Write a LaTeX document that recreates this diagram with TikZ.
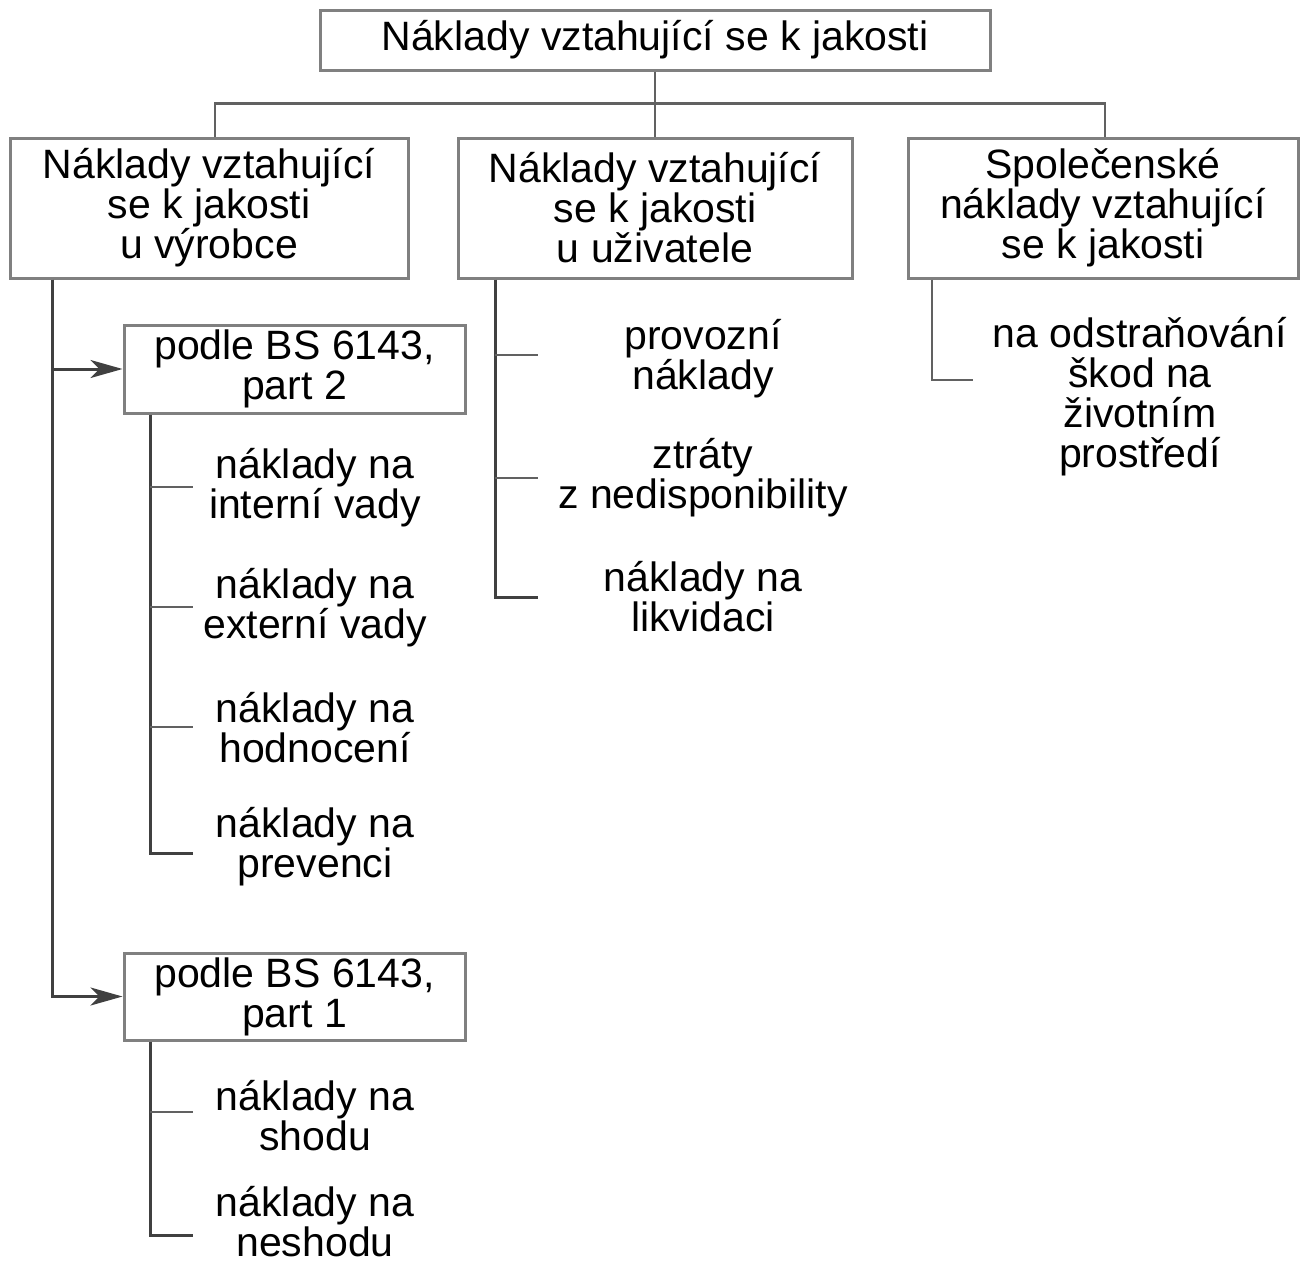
\documentclass[tikz,border=0pt]{standalone}
\usepackage{fontspec}
\setmainfont{Liberation Sans}
\usetikzlibrary{arrows.meta}
\begin{document}
\begin{tikzpicture}[x=1pt,y=-1pt,
  every node/.style={font=\fontsize{41}{40}\selectfont, align=center, inner sep=0pt},
  box/.style={draw=black!50, line width=3pt, fill=white},
  conn/.style={draw=black!75, line width=3pt},
  tick/.style={draw=black!62, line width=2.6pt},
  arr/.style={-{Stealth[length=32pt,width=18pt,inset=9pt]}}]
\useasboundingbox (0,0) rectangle (1301,1266);
% boxes
\node[box, minimum width=670, minimum height=60] (top) at (655,40) {Náklady vztahující se k jakosti};
\node[box, minimum width=398, minimum height=140] (A) at (209,208) {Náklady vztahující\\se k jakosti\\u výrobce};
\node[box, minimum width=394, minimum height=140] (B) at (655,208) {Náklady vztahující\\se k jakosti\\u uživatele};
\node[box, minimum width=390, minimum height=140] (C) at (1103,208) {Společenské\\náklady vztahující\\se k jakosti};
\node[box, minimum width=341, minimum height=88] (P2) at (294.5,369) {podle BS 6143,\\part 2};
\node[box, minimum width=341, minimum height=87] (P1) at (294.5,996.5) {podle BS 6143,\\part 1};
% labels
\node (L1) at (315,488) {náklady na\\interní vady};
\node (L2) at (315,608) {náklady na\\externí vady};
\node (L3) at (315,728) {náklady na\\hodnocení};
\node (L4) at (315,847) {náklady na\\prevenci};
\node (L5) at (315,1116) {náklady na\\shodu};
\node (L6) at (315,1222) {náklady na\\neshodu};
\node (M1) at (703,359) {provozní\\náklady};
\node (M2) at (703,478) {ztráty\\z nedisponibility};
\node (M3) at (703,597) {náklady na\\likvidaci};
\node (S1) at (1140,397) {na odstraňování\\škod na\\životním\\prostředí};
% coordinates
\coordinate (xa) at (52,0);
\coordinate (xb) at (150,0);
\coordinate (xm) at (495,0);
\coordinate (xs) at (932,0);
\coordinate (t1) at (193,487);
\coordinate (t2) at (193,607);
\coordinate (t3) at (193,727);
\coordinate (t4) at (193,853);
\coordinate (t5) at (193,1112);
\coordinate (t6) at (193,1235);
\coordinate (m1) at (538,355);
\coordinate (m2) at (538,478);
\coordinate (m3) at (538,597);
\coordinate (s1) at (973,380);
% top connectors
\draw[tick] (top.south) -- (B.north);
\draw[tick] ([xshift=6pt]A.north) -- ++(0,-33) -| ([xshift=2pt]C.north);
% left trunk
\draw[conn, arr] (A.south -| xa) |- (P2.west);
\draw[conn, arr] (A.south -| xa) |- (P1.west);
% under part 2
\draw[conn] (P2.south -| xb) |- (t4);
\draw[tick] (t1 -| xb) -- (t1);
\draw[tick] (t2 -| xb) -- (t2);
\draw[tick] (t3 -| xb) -- (t3);
% under part 1
\draw[conn] (P1.south -| xb) |- (t6);
\draw[tick] (t5 -| xb) -- (t5);
% user
\draw[conn] (B.south -| xm) |- (m3);
\draw[tick] (m1 -| xm) -- (m1);
\draw[tick] (m2 -| xm) -- (m2);
% society
\draw[tick] (C.south -| xs) |- (s1);
\end{tikzpicture}
\end{document}
